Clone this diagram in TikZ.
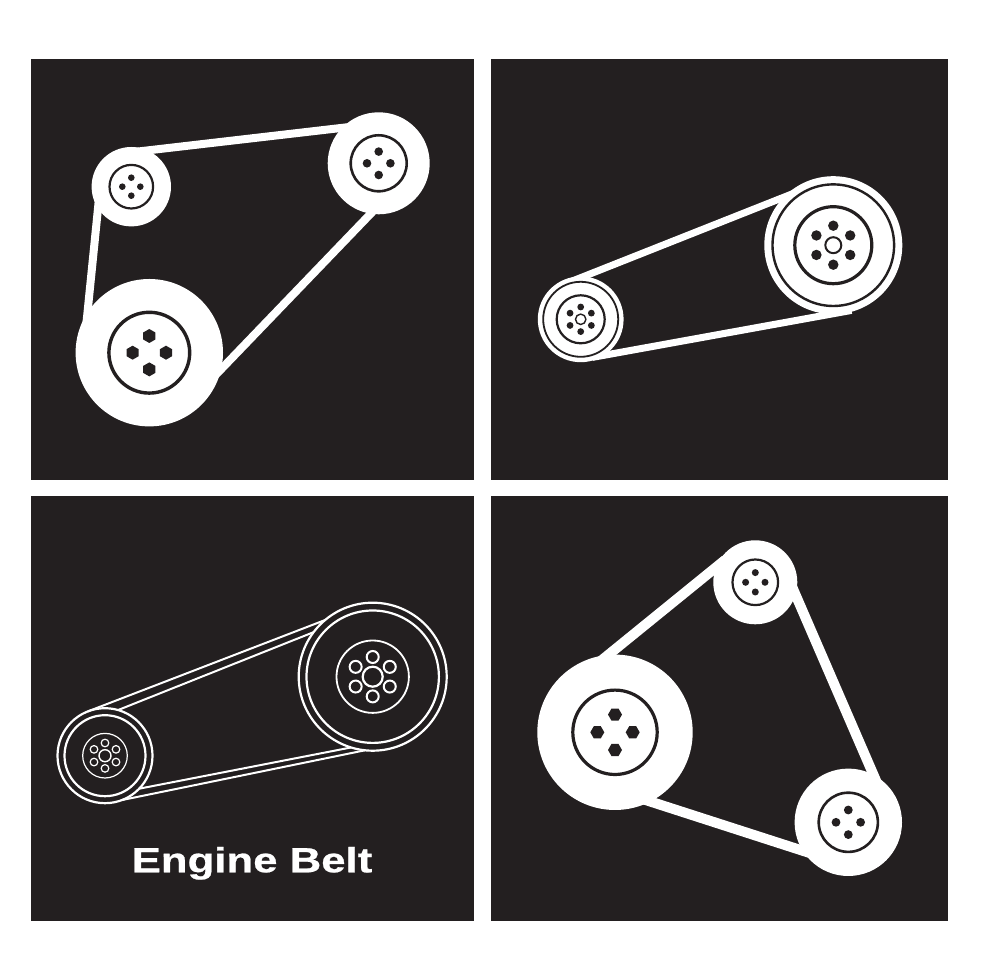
\documentclass[tikz,border=0pt]{standalone}
\usepackage{fontspec}
\setmainfont{Liberation Sans}
\newfontfamily\beltfont{Liberation Sans}[BoldFeatures={FakeBold=0.6}]
\usetikzlibrary{shapes.geometric}

\definecolor{panel}{HTML}{231F20}

\tikzset{
  pulley/.style={circle,fill=white,inner sep=0pt,outer sep=0pt,minimum size=#1*1pt},
  rim/.style={circle,draw=white,line width=2.2pt,inner sep=0pt,outer sep=0pt,minimum size=#1*1pt},
  belt/.style={white,line width=#1*1pt,shorten <=-12pt,shorten >=-12pt},
  thinbelt/.style={white,line width=2pt},
  hexhole/.style={regular polygon,regular polygon sides=6,fill=panel,inner sep=0pt,outer sep=0pt,minimum size=#1*1pt}
}

\begin{document}
\begin{tikzpicture}[x=1pt,y=1pt]
  \useasboundingbox (0,0) rectangle (980,980);
  \fill[white] (0,0) rectangle (980,980);
  \fill[panel] (31,500) rectangle (474,921);
  \fill[panel] (491,500) rectangle (948,921);
  \fill[panel] (31,59) rectangle (474,484);
  \fill[panel] (491,59) rectangle (948,484);

  \node[pulley=79.4] (smallA) at (131.3,793.3) {};
  \node[pulley=102] (rightA) at (378.7,816.7) {};
  \node[pulley=147.4] (bigA) at (149.3,627.3) {};
  \draw[belt=8] (smallA.66) -- (rightA.136);
  \draw[belt=8] (smallA.213) -- (bigA.147);
  \draw[belt=8] (rightA.261) -- (bigA.347);
  \draw[panel,line width=2.2pt] (smallA) circle (21.8);
  \draw[panel,line width=2.6pt] (rightA) circle (28);
  \draw[panel,line width=3.4pt] (bigA) circle (40.4);
  \foreach \a in {0,90,180,270} {
    \fill[panel] (smallA) ++(\a:9) circle (3.3);
    \fill[panel] (rightA) ++(\a:11.7) circle (4.3);
    \node[hexhole=14,shape border rotate=30] (hexA\a) at ([shift={(\a:16.7)}]bigA) {};
  }

  \node[pulley=138] (bigB) at (833.3,734.8) {};
  \node[pulley=85.8] (smallB) at (580.7,660.7) {};
  \draw[belt=7] (smallB.86) -- (bigB.136);
  \draw[belt=7,shorten >=-21pt] (smallB.303) -- (bigB.268);
  \draw[panel,line width=2.4pt] (bigB) circle (60.8);
  \draw[panel,line width=3.2pt] (bigB) circle (38.5);
  \draw[panel,line width=2pt] (bigB) circle (8);
  \draw[panel,line width=1.8pt] (smallB) circle (37.5);
  \draw[panel,line width=2.2pt] (smallB) circle (24);
  \draw[panel,line width=1.4pt] (smallB) circle (5.2);
  \foreach \a in {30,90,...,330} {
    \fill[panel] (bigB) ++(\a:19.5) circle (5.2);
    \fill[panel] (smallB) ++(\a:12.3) circle (3.4);
  }

  \node[rim=148] (bigC) at (372.7,303.3) {};
  \node[rim=95] (smallC) at (105,224.3) {};
  \draw[thinbelt] (smallC.111) -- (bigC.130);
  \draw[thinbelt] (smallC.74) -- (bigC.143);
  \draw[thinbelt] (smallC.291) -- (bigC.264);
  \draw[thinbelt] (smallC.316) -- (bigC.253);
  \draw[white,line width=2.2pt] (bigC) circle (66.2);
  \draw[white,line width=1.8pt] (bigC) circle (36.2);
  \draw[white,line width=2.2pt] (bigC) circle (10);
  \draw[white,line width=2.2pt] (smallC) circle (40.5);
  \draw[white,line width=1.2pt] (smallC) circle (22.3);
  \draw[white,line width=1.4pt] (smallC) circle (6);
  \foreach \a in {30,90,...,330} {
    \draw[white,line width=2pt] (bigC) ++(\a:19.7) circle (6);
    \draw[white,line width=1.2pt] (smallC) ++(\a:12.7) circle (3.8);
  }
  \node[font=\beltfont\bfseries\fontsize{35}{35}\selectfont,white,anchor=base,transform shape,xscale=1.25] (title) at (252,107.7) {Engine Belt};

  \node[pulley=84] (topD) at (755.3,397.7) {};
  \node[pulley=155.4] (bigD) at (615,247.7) {};
  \node[pulley=107.4] (lowD) at (848.3,157.7) {};
  \draw[belt=10] (bigD.95) -- (topD.159);
  \draw[belt=10] (topD.343) -- (lowD.62);
  \draw[belt=10] (bigD.297) -- (lowD.212);
  \draw[panel,line width=2.2pt] (topD) circle (22.8);
  \draw[panel,line width=3.2pt] (bigD) circle (42.2);
  \draw[panel,line width=2.6pt] (lowD) circle (29.6);
  \foreach \a in {0,90,180,270} {
    \fill[panel] (topD) ++(\a:9.7) circle (3.5);
    \fill[panel] (lowD) ++(\a:12.3) circle (4.4);
    \node[hexhole=14] (hexD\a) at ([shift={(\a:17.7)}]bigD) {};
  }
\end{tikzpicture}
\end{document}
